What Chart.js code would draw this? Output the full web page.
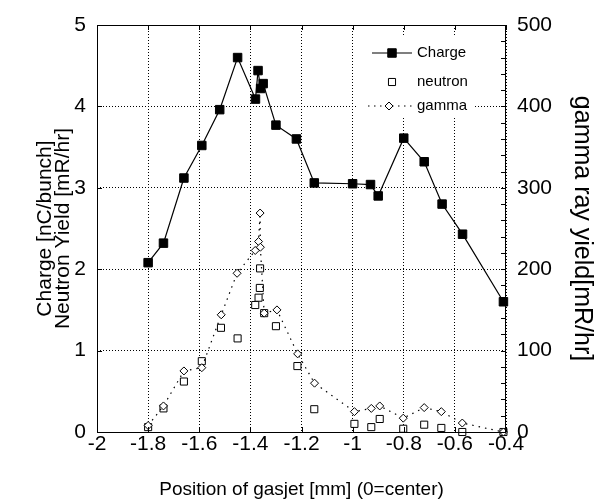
<!DOCTYPE html>
<html>
<head>
<meta charset="utf-8">
<script src="https://cdn.jsdelivr.net/npm/chart.js@4/dist/chart.umd.min.js"></script>
<style>
  html, body { margin: 0; padding: 0; background: #fff; }
  #wrap { width: 594px; height: 504px; }
</style>
</head>
<body>
<div id="wrap"><canvas id="js-canvas-gasjet" width="594" height="504"></canvas></div>
<script>
// Position of the gasjet [mm] for each shot
const chargeX = [-1.80, -1.74, -1.66, -1.59, -1.52, -1.45, -1.38, -1.37, -1.36, -1.35, -1.30, -1.22, -1.15, -1.00, -0.93, -0.90, -0.80, -0.72, -0.65, -0.57, -0.41];
// Charge [nC/bunch]
const charge = [2.08, 2.32, 3.12, 3.52, 3.96, 4.60, 4.09, 4.44, 4.22, 4.28, 3.77, 3.60, 3.06, 3.05, 3.04, 2.90, 3.61, 3.32, 2.80, 2.43, 1.60];

const neutronX = [-1.80, -1.74, -1.66, -1.59, -1.515, -1.45, -1.381, -1.368, -1.363, -1.362, -1.346, -1.30, -1.216, -1.15, -0.993, -0.927, -0.894, -0.802, -0.72, -0.653, -0.571, -0.41];
// Neutron yield [mR/hr]
const neutron = [0.06, 0.29, 0.62, 0.87, 1.28, 1.15, 1.56, 1.65, 1.77, 2.01, 1.46, 1.30, 0.81, 0.28, 0.10, 0.06, 0.16, 0.04, 0.09, 0.05, 0.00, 0.00];

const gammaX = [-1.80, -1.74, -1.66, -1.59, -1.514, -1.452, -1.381, -1.368, -1.362, -1.361, -1.346, -1.296, -1.215, -1.149, -0.993, -0.927, -0.894, -0.802, -0.72, -0.653, -0.571, -0.41];
// Gamma ray yield [mR/hr] (right axis)
const gamma = [8, 32, 75, 79, 144, 195, 223, 234, 269, 227, 146, 150, 96, 60, 25, 29, 32, 17, 30, 25, 11, 0];

// Axis ticks
const xTicks = [-2, -1.8, -1.6, -1.4, -1.2, -1, -0.8, -0.6, -0.4];
const leftTicks = [0, 1, 2, 3, 4, 5];
const rightTicks = [0, 100, 200, 300, 400, 500];

const pts = (xs, ys) => xs.map((x, i) => ({ x: x, y: ys[i] }));

Chart.defaults.font.family = "'Liberation Sans', Arial, Helvetica, sans-serif";
Chart.defaults.color = '#000';

// dotted grid, no axis line (the frame is drawn by the plugin)
const dottedGrid = { color: '#000', lineWidth: 1, drawTicks: false };
const dottedBorder = { display: false, dash: [1, 2] };

// frame, inner tick marks and the boxed legend
const decorations = {
  id: 'decorations',
  beforeDatasetsDraw(chart) {
    const { ctx, chartArea: a } = chart;
    ctx.save();
    ctx.fillStyle = '#fff';
    ctx.fillRect(a.right - 148, a.top + 11, 115, 82);
    ctx.restore();
  },
  afterDraw(chart) {
    const { ctx, chartArea: a, scales } = chart;
    ctx.save();
    ctx.strokeStyle = '#000';
    ctx.lineWidth = 1;
    ctx.strokeRect(a.left + 0.5, a.top + 0.5, a.right - a.left - 1, a.bottom - a.top);
    ctx.beginPath();
    xTicks.forEach(v => {
      const px = Math.round(scales.x.getPixelForValue(v)) + 0.5;
      ctx.moveTo(px, a.bottom); ctx.lineTo(px, a.bottom - 5);
      ctx.moveTo(px, a.top); ctx.lineTo(px, a.top + 5);
    });
    leftTicks.forEach(v => {
      const py = Math.round(scales.y.getPixelForValue(v)) + 0.5;
      ctx.moveTo(a.left, py); ctx.lineTo(a.left + 5, py);
    });
    for (let v = 0; v <= 500; v += 20) {
      const py = Math.round(scales.y1.getPixelForValue(v)) + 0.5;
      ctx.moveTo(a.right, py); ctx.lineTo(a.right - 5, py);
    }
    ctx.stroke();

    // legend
    const draw = Chart.helpers && Chart.helpers.drawPoint;
    const lx = a.right - 114, tx = a.right - 89;
    const rows = [a.top + 28, a.top + 57, a.top + 81];
    ctx.font = "15px 'Liberation Sans', Arial, sans-serif";
    ctx.fillStyle = '#000';
    ctx.textBaseline = 'middle';
    ctx.lineWidth = 1.2;
    ctx.beginPath();
    ctx.moveTo(lx - 20, rows[0]); ctx.lineTo(lx + 20, rows[0]);
    ctx.stroke();
    ctx.setLineDash([1.5, 4.5]);
    ctx.beginPath();
    ctx.moveTo(lx - 24, rows[2]); ctx.lineTo(lx + 20, rows[2]);
    ctx.stroke();
    ctx.setLineDash([]);
    ctx.lineWidth = 1;
    if (draw) {
      ctx.fillStyle = '#000';
      draw(ctx, { pointStyle: 'rect', radius: 6, rotation: 0, borderWidth: 1 }, lx, rows[0]);
      ctx.fillStyle = '#fff';
      draw(ctx, { pointStyle: 'rect', radius: 5, rotation: 0, borderWidth: 1 }, lx, rows[1]);
      draw(ctx, { pointStyle: 'rectRot', radius: 4, rotation: 0, borderWidth: 1 }, lx - 3, rows[2]);
    }
    ctx.fillStyle = '#000';
    ctx.fillText('Charge', tx, rows[0]);
    ctx.fillText('neutron', tx, rows[1]);
    ctx.fillText('gamma', tx, rows[2]);
    ctx.restore();
  }
};

new Chart(document.getElementById('js-canvas-gasjet'), {
  type: 'line',
  data: {
    datasets: [{
      label: 'Charge',
      data: pts(chargeX, charge),
      yAxisID: 'y',
      borderColor: '#000',
      borderWidth: 1.2,
      backgroundColor: '#000',
      pointStyle: 'rect',
      pointRadius: 6,
      pointBorderWidth: 1,
      tension: 0,
      clip: false,
      order: 0
    }, {
      label: 'neutron',
      data: pts(neutronX, neutron),
      yAxisID: 'y',
      showLine: false,
      borderColor: '#000',
      backgroundColor: '#fff',
      pointStyle: 'rect',
      pointRadius: 5,
      pointBorderWidth: 1,
      clip: false,
      order: 2
    }, {
      label: 'gamma',
      data: pts(gammaX, gamma),
      yAxisID: 'y1',
      borderColor: '#000',
      borderWidth: 1.2,
      borderDash: [1.5, 5],
      backgroundColor: '#fff',
      pointStyle: 'rectRot',
      pointRadius: 4,
      pointBorderWidth: 1,
      tension: 0,
      clip: false,
      order: 1
    }]
  },
  options: {
    responsive: false,
    animation: false,
    events: [],
    layout: { padding: { top: 25, bottom: 0, left: 0, right: 0 } },
    plugins: { legend: { display: false }, tooltip: { enabled: false } },
    scales: {
      x: {
        type: 'linear',
        min: -2, max: -0.4,
        border: dottedBorder,
        grid: dottedGrid,
        afterBuildTicks: s => { s.ticks = xTicks.map(v => ({ value: v })); },
        afterFit: s => { s.height = 72; },
        ticks: {
          autoSkip: false, maxRotation: 0, padding: 0,
          font: { size: 21 },
          callback: v => String(Number(v.toFixed(1)))
        },
        title: {
          display: true,
          text: 'Position of gasjet [mm] (0=center)',
          font: { size: 19 },
          padding: { top: 0, bottom: 3 }
        }
      },
      y: {
        position: 'left',
        min: 0, max: 5,
        border: dottedBorder,
        grid: dottedGrid,
        afterBuildTicks: s => { s.ticks = leftTicks.map(v => ({ value: v })); },
        afterFit: s => { s.width = 97; },
        ticks: { padding: 11, font: { size: 21 } },
        title: {
          display: true,
          text: ['Charge [nC/bunch]', 'Neutron Yield [mR/hr]'],
          font: { size: 21, lineHeight: 0.85 },
          padding: { top: 36, bottom: 0 }
        }
      },
      y1: {
        position: 'right',
        min: 0, max: 500,
        border: { display: false },
        grid: { display: false, drawTicks: false },
        afterBuildTicks: s => { s.ticks = rightTicks.map(v => ({ value: v })); },
        afterFit: s => { s.width = 88; },
        ticks: { padding: 11, font: { size: 21 } },
        title: {
          display: true,
          text: 'gamma ray yield[mR/hr]',
          font: { size: 25, lineHeight: 1.0 },
          padding: { top: 0, bottom: 0 }
        }
      }
    }
  },
  plugins: [decorations]
});
</script>
</body>
</html>
